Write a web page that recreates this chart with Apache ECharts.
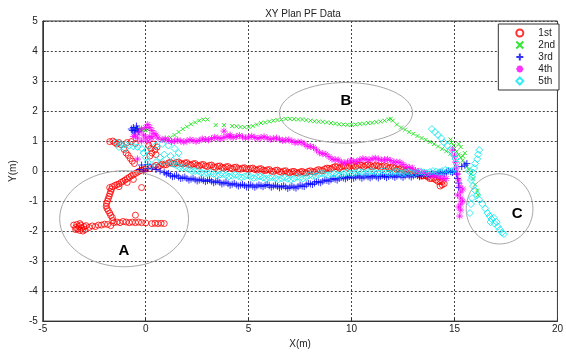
<!DOCTYPE html>
<html>
<head>
<meta charset="utf-8">
<script src="https://cdn.jsdelivr.net/npm/echarts@6/dist/echarts.min.js"></script>
<style>
html,body{margin:0;padding:0;background:#fff;}
#chart{width:566px;height:354px;}
</style>
</head>
<body>
<div id="chart"></div>
<script>
// Axis ticks
const xTicks = [-5, 0, 5, 10, 15, 20];
const yTicks = [-5, -4, -3, -2, -1, 0, 1, 2, 3, 4, 5];

// Legend names
const runNames = ['1st', '2nd', '3rd', '4th', '5th'];

// Estimated positions (x, y in metres) for each run
const run1st = [
  [-3.5,-1.8],[-3.4,-1.88],[-3.35,-1.78],[-3.3,-1.93],[-3.25,-1.85],[-3.2,-1.98],[-3.15,-1.8],[-3.1,-1.9],[-3.05,-2.0],[-3.0,-1.85],[-2.95,-1.95],[-2.9,-1.82],[-3.2,-1.75],[-3.4,-1.95],
  [-2.75,-1.88],[-2.6,-1.83],[-2.45,-1.85],[-2.3,-1.8],[-2.15,-1.8],[-2.0,-1.77],[-1.85,-1.78],[-1.7,-1.82],[-1.55,-1.72],[-1.4,-1.7],[-1.25,-1.72],[-1.1,-1.68],[-0.95,-1.7],[-0.8,-1.72],[-0.65,-1.7],[-0.5,-1.72],[-0.35,-1.7],[-0.2,-1.72],[0.0,-1.73],[0.3,-1.75],[0.45,-1.74],[0.6,-1.75],[0.75,-1.74],[0.9,-1.75],[-0.5,-1.47],
  [-1.6,-1.65],[-1.62,-1.55],[-1.7,-1.48],[-1.75,-1.4],[-1.82,-1.32],[-1.88,-1.25],[-1.92,-1.17],[-1.9,-1.08],[-1.86,-1.0],[-1.82,-0.92],[-1.78,-0.84],[-1.74,-0.76],[-1.7,-0.68],[-1.66,-0.6],[-1.75,-0.55],[-1.62,-0.52],[-1.5,-0.48],[-1.4,-0.45],[-1.3,-0.43],[-1.2,-0.38],[-1.1,-0.34],[-1.0,-0.3],[-0.9,-0.25],[-0.8,-0.21],[-0.7,-0.16],[-0.6,-0.12],[-0.5,-0.08],[-0.4,-0.04],[-0.3,0.0],[-0.2,0.03],[-0.1,0.05],[0.0,0.07],[-0.2,-0.55],[-0.6,-0.28],[-0.9,-0.38],[-1.3,-0.52],
  [-1.75,0.98],[-1.6,1.0],[-1.5,0.95],[-1.4,0.9],[-1.3,0.95],[-1.2,0.88],[-0.9,0.95],[-0.7,0.98],[-0.5,0.92],[-1.05,0.72],[-0.95,0.6],[-0.85,0.52],[-0.75,0.42],[-0.65,0.33],[-0.55,0.25],
  [0.15,0.85],[0.25,0.75],[0.35,0.9],[0.45,0.7],[0.55,0.8],[0.3,0.6],[0.5,0.55],[0.2,0.5],[0.2,0.08],
  [0.4,0.15],[0.6,0.13],[0.8,0.23],[1.0,0.21],[1.2,0.29],[1.4,0.24],[1.6,0.3],[1.8,0.23],[2.0,0.28],[2.2,0.2],[2.4,0.25],[2.6,0.17],[2.8,0.22],[3.0,0.15],[3.2,0.2],[3.4,0.12],[3.6,0.17],[3.8,0.1],[4.0,0.15],[4.2,0.08],[4.4,0.13],[4.6,0.06],[4.8,0.11],[5.0,0.05],[5.2,0.1],[5.4,0.03],[5.6,0.08],[5.8,0.01],[6.0,0.05],[6.2,-0.02],[6.4,0.03],[6.6,-0.04],[6.8,0.01],[7.0,-0.06],[7.2,-0.01],[7.4,-0.07],[7.6,-0.01],[7.8,-0.06],[8.0,0.01],[8.2,-0.03],[8.4,0.05],[8.6,0.01],[8.8,0.1],[9.0,0.07],[9.2,0.15],[9.4,0.1],[9.6,0.17],[9.8,0.12],[10.0,0.19],[10.2,0.14],[10.4,0.2],[10.6,0.15],[10.8,0.21],[11.0,0.14],[11.2,0.2],[11.4,0.13],[11.6,0.18],[11.8,0.1],[12.0,0.14],[12.2,0.05],[12.4,0.08],[12.6,-0.01],[12.8,0.02],[13.0,-0.08],[13.2,-0.07],[13.4,-0.17],[13.6,-0.15],[13.8,-0.25],[14.0,-0.24],[14.2,-0.35],[14.4,-0.35],[14.5,-0.42],[14.4,-0.46],[14.3,-0.5],
  [0.5,0.19],[0.7,0.18],[0.9,0.2],[1.1,0.27],[1.3,0.25],[1.5,0.29],[1.7,0.25],[1.9,0.27],[2.1,0.22],[2.3,0.24],[2.5,0.19],[2.7,0.21],[2.9,0.17],[3.1,0.19],[3.3,0.14],[3.5,0.16],[3.7,0.12],[3.9,0.14],[4.1,0.1],[4.3,0.12],[4.5,0.08],[4.7,0.1],[4.9,0.07],[5.1,0.09],[5.3,0.05],[5.5,0.07],[5.7,0.03],[5.9,0.04],[6.1,0.0],[6.3,0.02],[6.5,-0.02],[6.7,0.0],[6.9,-0.04],[7.1,-0.02],[7.3,-0.05],[7.5,-0.03],[7.7,-0.05],[7.9,-0.01],[8.1,-0.02],[8.3,0.02],[8.5,0.02],[8.7,0.07],[8.9,0.09],[9.1,0.12],[9.3,0.14],[9.5,0.14],[9.7,0.16],[9.9,0.16],[10.1,0.18],[10.3,0.18],[10.5,0.19],[10.7,0.19],[10.9,0.19],[11.1,0.17],[11.3,0.17],[11.5,0.15],[11.7,0.15],[11.9,0.12],[12.1,0.1],[12.3,0.07],[12.5,0.04],[12.7,0.01],[12.9,-0.03],[13.1,-0.06],[13.3,-0.12],[13.5,-0.16],[13.7,-0.2],[13.9,-0.25],[14.1,-0.3],[14.3,-0.35]
];

const run2nd = [
  [-0.5,1.42],[-0.4,1.38],[-0.3,1.4],[-0.2,1.37],[-0.1,1.39],[0.0,1.36],[0.1,1.38],
  [0.8,1.05],[1.0,1.08],[1.2,1.12],[1.4,1.2],[1.6,1.3],[1.8,1.4],[2.0,1.48],[2.2,1.56],[2.4,1.62],[2.6,1.68],[2.8,1.72],[3.0,1.72],[3.4,1.53],[3.8,1.53],
  [4.2,1.5],[4.4,1.49],[4.6,1.47],[4.8,1.46],[5.0,1.47],[5.2,1.5],[5.4,1.55],[5.6,1.6],[5.8,1.62],[6.0,1.65],[6.2,1.68],[6.4,1.7],[6.6,1.72],[6.8,1.74],[7.0,1.74],[7.2,1.73],[7.4,1.72],[7.6,1.72],[7.8,1.7],[8.0,1.68],[8.2,1.66],[8.4,1.65],[8.6,1.64],[8.8,1.62],[9.0,1.6],[9.2,1.58],[9.4,1.56],[9.6,1.55],[9.8,1.54],[10.0,1.54],[10.2,1.55],[10.4,1.57],[10.6,1.58],[10.8,1.6],[11.0,1.61],[11.2,1.63],[11.4,1.65],[11.6,1.68],[11.8,1.72],[11.9,1.74],[12.0,1.68],[12.2,1.55],[12.4,1.45],[12.6,1.38],[12.8,1.3],[13.0,1.24],[13.2,1.17],[13.4,1.1],[13.6,1.04],[13.8,0.97],[14.0,0.9],[14.2,0.82],[14.4,0.74],[14.6,0.66],[14.8,0.58],
  [14.8,1.05],[14.85,0.95],[14.95,0.85],[15.0,0.75],[15.1,0.65],[15.2,0.55],[15.3,0.45],[15.4,0.35],[15.5,0.25],[15.6,0.15],[15.7,0.05],[15.8,-0.1],[15.9,-0.25],[16.0,-0.45],[16.1,-0.65],[16.15,-0.8],[15.3,0.8],[15.5,0.6],[15.2,0.9],[15.4,0.5]
];

const run3rd = [
  [-0.7,1.4],[-0.6,1.45],[-0.5,1.35],[-0.4,1.4],[-0.55,1.3],[-0.45,1.5],[-0.65,1.35],[-0.35,1.32],
  [-0.3,0.05],[-0.1,0.0],[0.1,0.08],[0.3,0.1],[0.5,0.05],[0.7,0.0],[0.9,-0.05],[-0.2,0.2],[0.1,0.22],
  [1.0,-0.1],[1.2,-0.14],[1.4,-0.17],[1.6,-0.2],[1.8,-0.23],[2.0,-0.25],[2.2,-0.27],[2.4,-0.29],[2.6,-0.3],[2.8,-0.31],[3.0,-0.32],[3.2,-0.34],[3.4,-0.36],[3.6,-0.38],[3.8,-0.4],[4.0,-0.42],[4.2,-0.44],[4.4,-0.46],[4.6,-0.47],[4.8,-0.48],[5.0,-0.49],[5.2,-0.5],[5.4,-0.5],[5.6,-0.49],[5.8,-0.48],[6.0,-0.49],[6.2,-0.5],[6.4,-0.51],[6.6,-0.52],[6.8,-0.53],[7.0,-0.54],[7.2,-0.54],[7.4,-0.52],[7.6,-0.5],[7.8,-0.46],[8.0,-0.43],[8.2,-0.4],[8.4,-0.37],[8.6,-0.34],[8.8,-0.31],[9.0,-0.29],[9.2,-0.27],[9.4,-0.25],[9.6,-0.23],[9.8,-0.22],[10.0,-0.21],[10.2,-0.2],[10.4,-0.2],[10.6,-0.2],[10.8,-0.19],[11.0,-0.19],[11.2,-0.19],[11.4,-0.18],[11.6,-0.18],[11.8,-0.18],[12.0,-0.17],[12.2,-0.17],[12.4,-0.17],[12.6,-0.16],[12.8,-0.16],[13.0,-0.16],[13.2,-0.15],[13.4,-0.15],[13.6,-0.14],[13.8,-0.12],[14.0,-0.1],[14.2,-0.08],[14.4,-0.06],[14.6,-0.04],[14.8,-0.02],[15.0,0.0],
  [1.1,-0.08],[1.3,-0.19],[1.5,-0.14],[1.7,-0.25],[1.9,-0.2],[2.1,-0.3],[2.3,-0.24],[2.5,-0.33],[2.7,-0.27],[2.9,-0.35],[3.1,-0.29],[3.3,-0.39],[3.5,-0.33],[3.7,-0.43],[3.9,-0.37],[4.1,-0.47],[4.3,-0.41],[4.5,-0.5],[4.7,-0.44],[4.9,-0.53],[5.1,-0.46],[5.3,-0.54],[5.5,-0.46],[5.7,-0.52],[5.9,-0.45],[6.1,-0.54],[6.3,-0.47],[6.5,-0.56],[6.7,-0.49],[6.9,-0.58],[7.1,-0.5],[7.3,-0.57],[7.5,-0.47],[7.7,-0.52],[7.9,-0.41],[8.1,-0.45],[8.3,-0.35],[8.5,-0.39],[8.7,-0.3],[8.9,-0.34],[9.1,-0.25],[9.3,-0.3],[9.5,-0.21],[9.7,-0.26],[9.9,-0.18],[10.1,-0.24],[10.3,-0.16],[10.5,-0.24],[10.7,-0.16],[10.9,-0.23],[11.1,-0.15],[11.3,-0.23],[11.5,-0.14],[11.7,-0.22],[11.9,-0.14],[12.1,-0.21],[12.3,-0.13],[12.5,-0.21],[12.7,-0.12],[12.9,-0.2],[13.1,-0.12],[13.3,-0.19],[13.5,-0.11],[13.7,-0.17],[13.9,-0.08],[14.1,-0.13],[14.3,-0.04],[14.5,-0.09],[14.7,0.0],[14.9,-0.05],
  [15.1,-0.1],[15.15,-0.25],[15.2,-0.4],[15.2,-0.55],[15.35,0.15],[15.5,0.2],[15.6,0.25]
];

const run4th = [
  [-0.5,1.2],[-0.3,1.3],[-0.2,1.4],[0.0,1.45],[0.1,1.55],[0.2,1.45],[0.3,1.35],[0.4,1.25],[0.5,1.2],[-0.1,1.2],[0.2,1.15],[-0.4,1.1],[0.0,1.1],[0.3,1.1],[0.6,1.1],[-0.6,1.15],[-0.2,1.0],[0.1,1.0],[-0.4,0.4],
  [0.8,1.05],[1.1,1.02],[1.4,1.0],[1.7,1.0],[2.0,1.0],[2.3,1.02],[2.6,1.02],[2.9,1.05],[3.2,1.08],[3.5,1.1],[3.8,1.12],[4.1,1.14],[4.4,1.15],[4.7,1.14],[5.0,1.13],[5.3,1.12],[5.6,1.12],[5.9,1.1],[6.2,1.08],[6.5,1.06],[6.8,1.03],[7.1,1.0],[7.4,0.96],[7.7,0.9],[8.0,0.82],[8.3,0.7],[8.6,0.58],[8.9,0.48],[9.2,0.38],[9.5,0.3],[9.8,0.3],[10.1,0.33],[10.4,0.37],[10.7,0.39],[11.0,0.4],[11.3,0.4],[11.6,0.38],[11.9,0.35],[12.2,0.3],[12.5,0.22],[12.8,0.12],[13.1,0.02],[13.4,-0.06],[13.7,-0.1],[14.0,-0.15],[14.3,-0.2],[14.6,-0.25],[3.8,1.33],[4.1,1.2],
  [0.95,1.07],[1.25,0.98],[1.55,1.03],[1.85,0.97],[2.15,1.04],[2.45,0.99],[2.75,1.07],[3.05,1.04],[3.35,1.12],[3.65,1.08],[3.95,1.16],[4.25,1.12],[4.55,1.18],[4.85,1.1],[5.15,1.16],[5.45,1.09],[5.75,1.14],[6.05,1.06],[6.35,1.1],[6.65,1.02],[6.95,1.04],[7.25,0.95],[7.55,0.96],[7.85,0.83],[8.15,0.79],[8.45,0.61],[8.75,0.56],[9.05,0.4],[9.35,0.37],[9.65,0.27],[9.95,0.34],[10.25,0.32],[10.55,0.41],[10.85,0.37],[11.15,0.43],[11.45,0.36],[11.75,0.39],[12.05,0.3],[12.35,0.29],[12.65,0.14],[12.95,0.1],[13.25,-0.01],[13.55,-0.05],[13.85,-0.15],[14.15,-0.15],[14.45,-0.25],
  [14.9,0.7],[15.0,0.5],[15.05,0.3],[15.1,0.1],[15.15,-0.1],[15.2,-0.3],[15.25,-0.5],[15.3,-0.7],[15.3,-0.9],[15.3,-1.1],[15.3,-1.3],[15.25,-1.5],[15.4,-0.6],[15.4,-1.0],[15.15,-0.8],[15.2,-1.2]
];

const run5th = [
  [-1.4,0.95],[-1.2,0.9],[-1.0,0.88],[-0.8,0.85],[-0.6,0.82],[-0.4,0.8],[-0.2,0.75],[-1.3,0.8],[-1.0,0.75],
  [-0.1,0.6],[0.0,0.45],[0.1,0.3],[0.2,0.15],[0.05,0.7],
  [0.5,0.85],[0.8,0.9],[1.1,0.85],[1.4,0.75],[1.6,0.6],[1.5,0.45],[1.2,0.5],[0.9,0.55],[0.7,0.45],[0.5,0.3],[0.8,0.3],
  [1.2,0.25],[1.5,0.18],[1.8,0.12],[2.1,0.06],[2.4,0.0],[2.7,-0.05],[3.0,-0.08],[3.3,-0.1],[3.6,-0.12],[3.9,-0.14],[4.2,-0.16],[4.5,-0.17],[4.8,-0.18],[5.1,-0.19],[5.4,-0.2],[5.7,-0.22],[6.0,-0.23],[6.3,-0.24],[6.6,-0.25],[6.9,-0.26],[7.2,-0.25],[7.5,-0.23],[7.8,-0.2],[8.1,-0.16],[8.4,-0.12],[8.7,-0.1],[9.0,-0.1],[9.3,-0.12],[9.6,-0.1],[9.9,-0.07],[10.2,-0.05],[10.5,-0.04],[10.8,-0.03],[11.1,-0.03],[11.4,-0.03],[11.7,-0.03],[12.0,-0.04],[12.3,-0.04],[12.6,-0.05],[12.9,-0.05],[13.2,-0.05],[13.5,-0.04],[13.8,-0.03],[14.1,-0.02],[14.4,0.0],[14.7,0.02],[15.0,0.05],
  [1.35,0.24],[1.65,0.12],[1.95,0.11],[2.25,0.0],[2.55,0.0],[2.85,-0.09],[3.15,-0.06],[3.45,-0.14],[3.75,-0.1],[4.05,-0.18],[4.35,-0.13],[4.65,-0.21],[4.95,-0.15],[5.25,-0.23],[5.55,-0.18],[5.85,-0.26],[6.15,-0.2],[6.45,-0.28],[6.75,-0.22],[7.05,-0.29],[7.35,-0.2],[7.65,-0.25],[7.95,-0.14],[8.25,-0.17],[8.55,-0.08],[8.85,-0.13],[9.15,-0.08],[9.45,-0.14],[9.75,-0.05],[10.05,-0.09],[10.35,-0.01],[10.65,-0.07],[10.95,0.0],[11.25,-0.06],[11.55,0.0],[11.85,-0.07],[12.15,-0.01],[12.45,-0.08],[12.75,-0.02],[13.05,-0.08],[13.35,-0.01],[13.65,-0.07],[13.95,0.0],[14.25,-0.04],[14.55,0.04],[14.85,0.0],
  [13.9,1.4],[14.05,1.3],[14.2,1.2],[14.35,1.1],[14.5,0.95],[14.65,0.85],[14.8,0.7],[14.95,0.55],[15.05,0.4],[15.1,0.27],
  [16.2,0.7],[16.15,0.55],[16.1,0.4],[16.0,0.25],[15.95,0.1],[15.9,-0.05],[15.85,-0.2],
  [15.7,0.0],[15.8,-0.3],[15.9,-0.5],[16.0,-0.65],[16.1,-0.8],[16.2,-0.95],[16.35,-1.1],[16.5,-1.25],[16.6,-1.4],[16.7,-1.5],[16.8,-1.6],[16.9,-1.55],[16.75,-1.7],[16.95,-1.75],[17.05,-1.7],[17.1,-1.85],[17.2,-1.95],[17.3,-2.05],[17.4,-2.1],[15.75,-1.4],[15.8,-1.1],[15.85,-0.9]
];

// Highlighted regions: centre x, centre y, semi-axis x, semi-axis y (metres), label position, label
const regionCx = [-1.05, 9.73, 17.19];
const regionCy = [-1.59, 1.94, -1.26];
const regionRx = [3.13, 3.23, 1.62];
const regionRy = [1.6, 1.01, 1.17];
const regionLabelX = [-1.06, 9.73, 18.04];
const regionLabelY = [-2.65, 2.34, -1.42];
const regionLabels = ['A', 'B', 'C'];

const runs = [run1st, run2nd, run3rd, run4th, run5th];
const colors = ['#ff0000', '#00e000', '#0000ff', '#ff00ff', '#00e8f0'];
const symbols = [
  'circle',
  'path://M0,0L10,10M10,0L0,10',
  'path://M5,0L5,10M0,5L10,5',
  'path://M5,0L5,10M0,5L10,5M1.5,1.5L8.5,8.5M8.5,1.5L1.5,8.5',
  'diamond'
];
const sizes = [6, 4, 7, 7, 7];

const font = 'Liberation Sans, Arial, sans-serif';
const chart = echarts.init(document.getElementById('chart'), null, {renderer: 'canvas'});

const scatterSeries = runs.map((pts, i) => ({
  type: 'scatter',
  name: runNames[i],
  data: pts,
  symbol: symbols[i],
  symbolSize: sizes[i],
  itemStyle: {color: 'rgba(0,0,0,0)', borderColor: colors[i], borderWidth: 1},
  emphasis: {disabled: true},
  animation: false
}));

const regionData = regionLabels.map((l, i) => [regionCx[i], regionCy[i], regionRx[i], regionRy[i], regionLabelX[i], regionLabelY[i]]);

const regionSeries = {
  type: 'custom',
  data: regionData,
  animation: false,
  z: 5,
  renderItem: function (params, api) {
    const c = api.coord([api.value(0), api.value(1)]);
    const s = api.size([api.value(2), api.value(3)]);
    const t = api.coord([api.value(4), api.value(5)]);
    return {
      type: 'group',
      children: [
        {type: 'ellipse', shape: {cx: c[0], cy: c[1], rx: s[0], ry: s[1]},
         style: {fill: null, stroke: '#a8a8a8', lineWidth: 1}},
        {type: 'text', x: t[0], y: t[1],
         style: {text: regionLabels[params.dataIndex], fill: '#000', font: 'bold 15px ' + font, align: 'center', verticalAlign: 'middle'}}
      ]
    };
  }
};

chart.setOption({
  backgroundColor: '#fff',
  animation: false,
  title: {
    text: 'XY Plan PF Data', left: 298, top: 4, textAlign: 'center',
    textStyle: {fontSize: 10, fontWeight: 'normal', color: '#222', fontFamily: font}
  },
  legend: {
    data: runNames, orient: 'vertical', right: 7, top: 24,
    backgroundColor: '#fff', borderColor: '#333', borderWidth: 1, borderRadius: 0,
    padding: [3, 4, 3, 17], itemGap: 0, itemWidth: 7, itemHeight: 7,
    textStyle: {fontSize: 10, color: '#222', fontFamily: font, lineHeight: 12, padding: [0, 0, 0, 10]},
    selectedMode: false
  },
  grid: {left: 35, right: 5, top: 21, bottom: 24, show: true, borderColor: '#333', borderWidth: 1, backgroundColor: 'transparent'},
  xAxis: {
    type: 'value', min: xTicks[0], max: xTicks[xTicks.length - 1], interval: 5,
    name: 'X(m)', nameLocation: 'middle', nameGap: 12,
    nameTextStyle: {fontSize: 10, color: '#222', fontFamily: font},
    axisLine: {onZero: false, lineStyle: {color: '#333'}},
    axisTick: {inside: true, length: 3, lineStyle: {color: '#333'}},
    axisLabel: {fontSize: 10, color: '#222', fontFamily: font, margin: 3},
    splitLine: {show: true, lineStyle: {color: '#444', type: [2, 2], width: 1}}
  },
  yAxis: {
    type: 'value', min: yTicks[0], max: yTicks[yTicks.length - 1], interval: 1,
    name: 'Y(m)', nameLocation: 'middle', nameGap: 22,
    nameTextStyle: {fontSize: 10, color: '#222', fontFamily: font},
    axisLine: {onZero: false, lineStyle: {color: '#333'}},
    axisTick: {inside: true, length: 3, lineStyle: {color: '#333'}},
    axisLabel: {fontSize: 10, color: '#222', fontFamily: font, margin: 5},
    splitLine: {show: true, lineStyle: {color: '#444', type: [2, 2], width: 1}}
  },
  series: scatterSeries.concat([regionSeries])
});
</script>
</body>
</html>
